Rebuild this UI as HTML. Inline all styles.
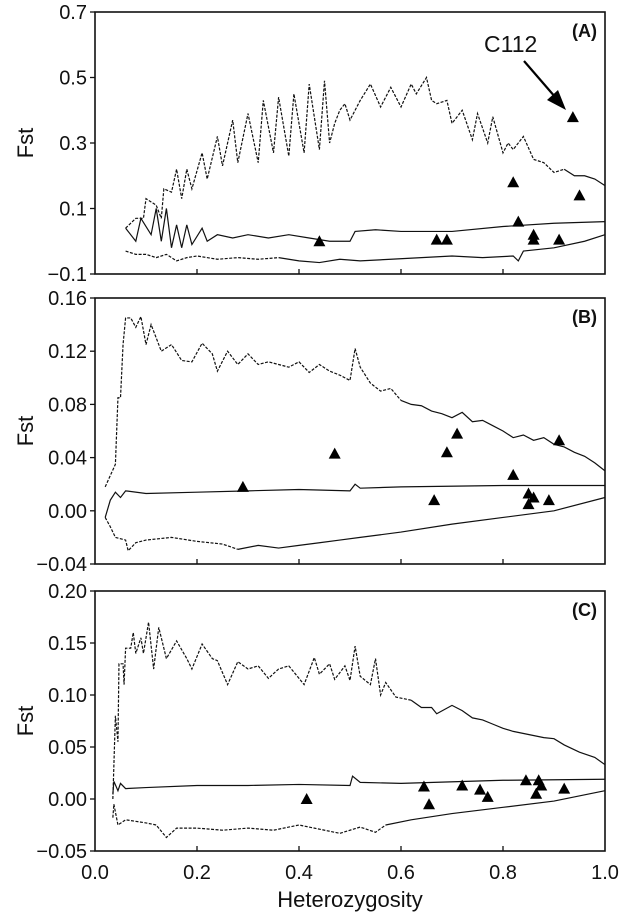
<!DOCTYPE html>
<html><head><meta charset="utf-8"><style>
body{margin:0;background:#fff}
svg text{font-family:"Liberation Sans",Arial,sans-serif;fill:#111}
</style></head><body>
<svg id="fig" width="628" height="914" viewBox="0 0 628 914" xmlns="http://www.w3.org/2000/svg"></svg>
<script>
const xTicks=[0.0,0.2,0.4,0.6,0.8,1.0];
const xTickLabels=["0.0","0.2","0.4","0.6","0.8","1.0"];
const aYTicks=[-0.1,0.1,0.3,0.5,0.7];
const aYLabels=["\u22120.1","0.1","0.3","0.5","0.7"];
const bYTicks=[-0.04,0.00,0.04,0.08,0.12,0.16];
const bYLabels=["\u22120.04","0.00","0.04","0.08","0.12","0.16"];
const cYTicks=[-0.05,0.00,0.05,0.10,0.15,0.20];
const cYLabels=["\u22120.05","0.00","0.05","0.10","0.15","0.20"];

const aUpper=[[0.06,0.04],[0.08,0.07],[0.095,0.07],[0.10,0.13],[0.12,0.11],[0.13,0.07],[0.135,0.16],[0.15,0.15],[0.16,0.22],[0.17,0.13],[0.18,0.22],[0.19,0.16],[0.21,0.27],[0.22,0.19],[0.24,0.32],[0.25,0.23],[0.27,0.37],[0.28,0.24],[0.30,0.39],[0.32,0.24],[0.33,0.43],[0.35,0.27],[0.36,0.44],[0.38,0.26],[0.39,0.45],[0.41,0.27],[0.42,0.48],[0.44,0.28],[0.45,0.49],[0.46,0.30],[0.47,0.36],[0.48,0.40],[0.49,0.42],[0.50,0.37],[0.52,0.43],[0.54,0.48],[0.56,0.41],[0.58,0.47],[0.60,0.41],[0.62,0.48],[0.63,0.45],[0.65,0.50],[0.66,0.43],[0.67,0.42],[0.69,0.43],[0.70,0.36],[0.72,0.40],[0.74,0.31],[0.75,0.39],[0.77,0.30],[0.78,0.38],[0.80,0.27],[0.81,0.30],[0.82,0.28],[0.84,0.32],[0.86,0.25],[0.88,0.24],[0.90,0.21],[0.92,0.22],[0.94,0.20],[0.96,0.20],[0.98,0.19],[1.0,0.17]];
const aMid=[[0.06,0.04],[0.08,0.0],[0.09,0.07],[0.11,0.02],[0.12,0.10],[0.13,0.0],[0.14,0.10],[0.15,-0.02],[0.16,0.05],[0.17,-0.02],[0.18,0.05],[0.19,-0.01],[0.21,0.04],[0.22,0.0],[0.24,0.02],[0.27,0.01],[0.30,0.02],[0.34,0.01],[0.38,0.02],[0.42,0.01],[0.46,0.00],[0.50,0.00],[0.51,0.03],[0.55,0.035],[0.60,0.03],[0.70,0.03],[0.80,0.045],[0.90,0.055],[1.0,0.06]];
const aLower=[[0.06,-0.03],[0.08,-0.04],[0.10,-0.04],[0.12,-0.05],[0.14,-0.04],[0.16,-0.06],[0.18,-0.05],[0.20,-0.045],[0.24,-0.055],[0.28,-0.05],[0.32,-0.055],[0.36,-0.05],[0.40,-0.06],[0.44,-0.065],[0.48,-0.055],[0.52,-0.06],[0.58,-0.055],[0.64,-0.05],[0.70,-0.045],[0.76,-0.05],[0.82,-0.045],[0.83,-0.06],[0.84,-0.03],[0.90,-0.02],[0.96,0.0],[1.0,0.02]];
const aTri=[[0.937,0.379],[0.82,0.18],[0.95,0.14],[0.83,0.06],[0.86,0.02],[0.86,0.005],[0.91,0.005],[0.44,0.0],[0.67,0.005],[0.69,0.005]];

const bUpper=[[0.02,0.018],[0.04,0.035],[0.045,0.085],[0.05,0.085],[0.055,0.125],[0.06,0.145],[0.07,0.145],[0.08,0.138],[0.09,0.146],[0.10,0.125],[0.11,0.14],[0.13,0.12],[0.15,0.125],[0.17,0.113],[0.19,0.112],[0.21,0.126],[0.23,0.118],[0.24,0.105],[0.26,0.12],[0.28,0.11],[0.30,0.118],[0.32,0.11],[0.34,0.112],[0.36,0.11],[0.38,0.108],[0.40,0.112],[0.42,0.104],[0.44,0.11],[0.46,0.105],[0.48,0.102],[0.50,0.098],[0.51,0.122],[0.52,0.108],[0.54,0.096],[0.56,0.09],[0.58,0.092],[0.60,0.083],[0.62,0.08],[0.64,0.079],[0.66,0.075],[0.68,0.073],[0.70,0.070],[0.72,0.074],[0.74,0.067],[0.76,0.068],[0.78,0.064],[0.80,0.060],[0.82,0.055],[0.84,0.057],[0.86,0.053],[0.88,0.055],[0.90,0.050],[0.92,0.048],[0.94,0.044],[0.96,0.041],[0.98,0.036],[1.0,0.030]];
const bMid=[[0.02,-0.005],[0.03,0.008],[0.04,0.014],[0.05,0.010],[0.06,0.015],[0.1,0.013],[0.2,0.014],[0.3,0.015],[0.4,0.016],[0.5,0.015],[0.51,0.020],[0.52,0.017],[0.6,0.018],[0.8,0.019],[1.0,0.019]];
const bLower=[[0.02,-0.005],[0.03,-0.012],[0.04,-0.020],[0.06,-0.022],[0.065,-0.030],[0.08,-0.024],[0.1,-0.022],[0.15,-0.020],[0.2,-0.023],[0.25,-0.025],[0.28,-0.029],[0.32,-0.026],[0.36,-0.028],[0.40,-0.026],[0.44,-0.024],[0.48,-0.022],[0.52,-0.020],[0.56,-0.018],[0.6,-0.016],[0.7,-0.010],[0.8,-0.005],[0.9,0.000],[1.0,0.010]];
const bTri=[[0.29,0.018],[0.47,0.043],[0.665,0.008],[0.69,0.044],[0.71,0.058],[0.82,0.027],[0.85,0.013],[0.86,0.010],[0.85,0.005],[0.89,0.008],[0.91,0.053]];

const cUpper=[[0.035,0.0],[0.04,0.08],[0.045,0.055],[0.047,0.13],[0.055,0.13],[0.057,0.11],[0.06,0.145],[0.07,0.145],[0.075,0.16],[0.08,0.14],[0.09,0.155],[0.095,0.14],[0.105,0.17],[0.115,0.125],[0.125,0.165],[0.14,0.135],[0.16,0.152],[0.18,0.135],[0.19,0.125],[0.21,0.149],[0.23,0.135],[0.24,0.133],[0.26,0.11],[0.28,0.132],[0.30,0.125],[0.32,0.128],[0.34,0.116],[0.36,0.125],[0.38,0.128],[0.41,0.11],[0.43,0.136],[0.44,0.12],[0.46,0.13],[0.47,0.115],[0.49,0.128],[0.50,0.114],[0.51,0.147],[0.52,0.118],[0.54,0.11],[0.55,0.135],[0.56,0.10],[0.57,0.112],[0.59,0.098],[0.62,0.095],[0.64,0.088],[0.66,0.088],[0.67,0.082],[0.70,0.09],[0.72,0.085],[0.74,0.078],[0.76,0.076],[0.78,0.072],[0.80,0.068],[0.82,0.065],[0.85,0.062],[0.88,0.059],[0.90,0.058],[0.92,0.052],[0.95,0.045],[0.98,0.040],[1.0,0.033]];
const cMid=[[0.035,0.005],[0.037,0.017],[0.045,0.008],[0.05,0.015],[0.06,0.01],[0.1,0.011],[0.2,0.013],[0.3,0.013],[0.4,0.014],[0.5,0.013],[0.505,0.022],[0.52,0.016],[0.6,0.015],[0.8,0.018],[1.0,0.019]];
const cLower=[[0.035,-0.018],[0.037,-0.005],[0.045,-0.025],[0.06,-0.02],[0.1,-0.023],[0.12,-0.025],[0.14,-0.037],[0.16,-0.028],[0.2,-0.028],[0.25,-0.030],[0.3,-0.028],[0.35,-0.03],[0.4,-0.025],[0.43,-0.028],[0.48,-0.033],[0.52,-0.027],[0.55,-0.032],[0.57,-0.025],[0.62,-0.02],[0.7,-0.014],[0.8,-0.008],[0.9,-0.002],[1.0,0.008]];
const cTri=[[0.415,0.0],[0.645,0.012],[0.655,-0.005],[0.72,0.013],[0.755,0.009],[0.77,0.002],[0.845,0.018],[0.87,0.018],[0.875,0.013],[0.865,0.005],[0.92,0.010]];

const NS="http://www.w3.org/2000/svg";
const svg=document.getElementById('fig');
function mk(tag,attrs,parent){const e=document.createElementNS(NS,tag);for(const k in attrs)e.setAttribute(k,attrs[k]);(parent||svg).appendChild(e);return e;}

function panel(cfg){
  const g=mk('g',{});
  
  
  const L=95,R=605,T=cfg.top,B=cfg.bottom;
  const sx=v=>L+(v-0)/(1-0)*(R-L);
  const sy=v=>B-(v-cfg.ymin)/(cfg.ymax-cfg.ymin)*(B-T);
  const frame=mk('rect',{x:L,y:T,width:R-L,height:B-T,fill:'none',stroke:'#111','stroke-width':1.6},g);
  
  
  xTicks.forEach((t,i)=>{
    if(i===0||i===xTicks.length-1)return;
    const tk=mk('line',{x1:sx(t),x2:sx(t),y1:B,y2:B-5,stroke:'#111','stroke-width':1.3},g);
    
    
  });
  if(cfg.xlabels){
    xTicks.forEach((t,i)=>{
      const tx=mk('text',{x:sx(t),y:B+28,'font-size':20,'text-anchor':'middle'},g);
      tx.textContent=xTickLabels[i];
      
      
    });
  }
  cfg.yt.forEach((t,i)=>{
    const tk=mk('line',{x1:L,x2:L-5,y1:sy(t),y2:sy(t),stroke:'#111','stroke-width':1.3},g);
    
    
    const tx=mk('text',{x:L-8,y:sy(t)+7,'font-size':20,'text-anchor':'end'},g);
    tx.textContent=cfg.yl[i];
    
    
  });
  const yt=mk('text',{x:0,y:0,'font-size':22,'text-anchor':'middle',transform:`translate(33,${(T+B)/2}) rotate(-90)`},g);
  yt.textContent='Fst';
  
  
  const pl=mk('text',{x:R-8,y:T+25,'font-size':18,'font-weight':'bold','text-anchor':'end'},g);
  pl.textContent=cfg.label;
  
  
  function line(data,name,dash,split){
    const pts=data.map(d=>[sx(d[0]),sy(d[1])]);
    if(split==null){
      const p=mk('polyline',{points:pts.map(p=>p.join(',')).join(' '),fill:'none',stroke:'#111','stroke-width':1.2},g);
      
      
    }else{
      const a=[],b=[];
      data.forEach((d,i)=>{if(d[0]<=split)a.push(pts[i]); else {if(b.length===0&&i>0)b.push(pts[i-1]); b.push(pts[i]);}});
      const p1=mk('polyline',{points:a.map(p=>p.join(',')).join(' '),fill:'none',stroke:'#111','stroke-width':1.2,'stroke-dasharray':dash},g);
      
      
      const p2=mk('polyline',{points:b.map(p=>p.join(',')).join(' '),fill:'none',stroke:'#111','stroke-width':1.2},g);
      
      
    }
  }
  line(cfg.upper,'upper-bound-line','3,1.5',cfg.upSplit);
  line(cfg.mid,'median-line',null,null);
  line(cfg.lower,'lower-bound-line','3,1.5',cfg.loSplit);
  cfg.tri.forEach(d=>{
    const x=sx(d[0]),y=sy(d[1]);
    const t=mk('polygon',{points:`${x},${y-6} ${x-6},${y+5} ${x+6},${y+5}`,fill:'#000'},g);
    
    
  });
  return {sx,sy,g};
}

panel({name:'panel-a',top:12,bottom:274,ymin:-0.1,ymax:0.7,yt:aYTicks,yl:aYLabels,label:'(A)',upper:aUpper,mid:aMid,lower:aLower,tri:aTri,xlabels:false,upSplit:0.93,loSplit:0.36});
panel({name:'panel-b',top:298,bottom:564,ymin:-0.04,ymax:0.16,yt:bYTicks,yl:bYLabels,label:'(B)',upper:bUpper,mid:bMid,lower:bLower,tri:bTri,xlabels:false,upSplit:0.6,loSplit:0.3});
panel({name:'panel-c',top:591,bottom:851,ymin:-0.05,ymax:0.20,yt:cYTicks,yl:cYLabels,label:'(C)',upper:cUpper,mid:cMid,lower:cLower,tri:cTri,xlabels:true,upSplit:0.62,loSplit:0.57});

const c112=mk('text',{x:484,y:52,'font-size':23});
c112.textContent='C112';


const arr=mk('line',{x1:524,y1:61,x2:556,y2:98,stroke:'#000','stroke-width':2.2});


const head=mk('polygon',{points:'566,110 547,100 558,90',fill:'#000'});



const xt=mk('text',{x:350,y:907,'font-size':22,'text-anchor':'middle'});
xt.textContent='Heterozygosity';


</script>
</body></html>
